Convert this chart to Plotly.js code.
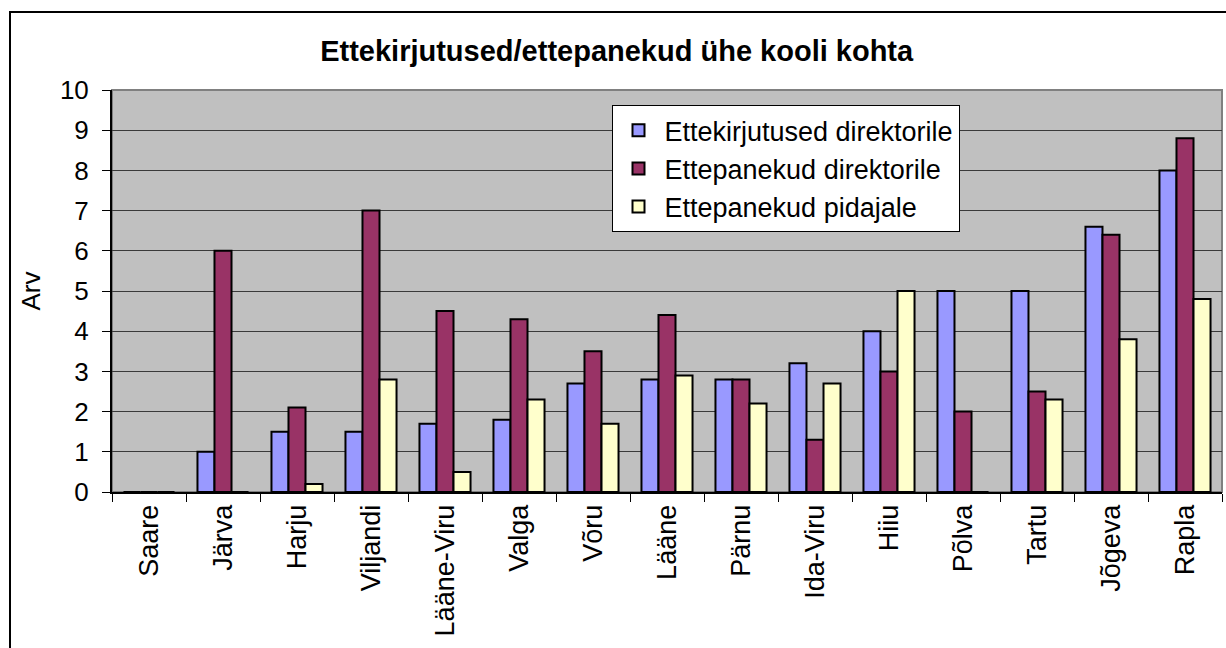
<!DOCTYPE html>
<html>
<head>
<meta charset="utf-8">
<script src="https://cdn.plot.ly/plotly-3.0.1.min.js"></script>
<style>
  html, body { margin: 0; padding: 0; background: #ffffff; }
  #wrap { position: relative; width: 1226px; height: 648px; overflow: hidden; }
  #frame { position: absolute; left: 9px; top: 11px; width: 1230px; height: 660px; border: 2px solid #000; box-sizing: border-box; pointer-events: none; }
  #chart { position: absolute; left: 0; top: 0; width: 1226px; height: 648px; }
</style>
</head>
<body>
<div id="wrap">
  <div id="chart"></div>
  <div id="frame"></div>
</div>
<script>
const categories = ["Saare", "Järva", "Harju", "Viljandi", "Lääne-Viru", "Valga", "Võru", "Lääne", "Pärnu", "Ida-Viru", "Hiiu", "Põlva", "Tartu", "Jõgeva", "Rapla"];
const ettekirjutusedDirektorile = [0, 1, 1.5, 1.5, 1.7, 1.8, 2.7, 2.8, 2.8, 3.2, 4, 5, 5, 6.6, 8];
const ettepanekudDirektorile = [0, 6, 2.1, 7, 4.5, 4.3, 3.5, 4.4, 2.8, 1.3, 3, 2, 2.5, 6.4, 8.8];
const ettepanekudPidajale = [0, 0, 0.2, 2.8, 0.5, 2.3, 1.7, 2.9, 2.2, 2.7, 5, 0, 2.3, 3.8, 4.8];
const seriesNames = ["Ettekirjutused direktorile", "Ettepanekud direktorile", "Ettepanekud pidajale"];
const yTicks = [0, 1, 2, 3, 4, 5, 6, 7, 8, 9, 10];

const colors = ["#9999FF", "#993366", "#FFFFCC"];
const seriesValues = [ettekirjutusedDirektorile, ettepanekudDirektorile, ettepanekudPidajale];

const FONT = "Arial, 'Liberation Sans', sans-serif";

const traces = seriesValues.map((vals, i) => ({
  type: "bar",
  name: seriesNames[i],
  x: categories,
  y: vals,
  legendgroup: "g" + i,
  marker: { color: colors[i], line: { color: "#000000", width: 2 } },
  hoverinfo: "x+y+name"
}));

const layout = {
  width: 1226,
  height: 648,
  paper_bgcolor: "rgba(0,0,0,0)",
  plot_bgcolor: "#C0C0C0",
  margin: { l: 112, r: 4, t: 90, b: 156, pad: 0 },
  barmode: "group",
  bargap: 0.31,
  bargroupgap: 0,
  title: {
    text: "<b>Ettekirjutused/ettepanekud ühe kooli kohta</b>",
    font: { family: FONT, size: 29, color: "#000000" },
    x: 0.503, xanchor: "center",
    y: 0.922, yanchor: "middle"
  },
  xaxis: {
    type: "category",
    categoryorder: "array",
    categoryarray: categories,
    tickson: "boundaries",
    ticks: "outside",
    ticklen: 8,
    tickwidth: 1,
    tickcolor: "#000000",
    tickangle: -90,
    tickfont: { family: FONT, size: 27, color: "#000000" },
    showline: true,
    linecolor: "#000000",
    linewidth: 2,
    showgrid: false,
    zeroline: false,
    fixedrange: true
  },
  yaxis: {
    range: [0, 10],
    tickvals: yTicks,
    ticktext: yTicks.map(String),
    ticks: "outside",
    ticklen: 8,
    tickwidth: 1,
    tickcolor: "#000000",
    ticklabelstandoff: 8,
    tickfont: { family: FONT, size: 26, color: "#000000" },
    showline: true,
    linecolor: "#000000",
    linewidth: 2,
    showgrid: true,
    gridcolor: "#3a3a3a",
    gridwidth: 1,
    zeroline: false,
    title: {
      text: "Arv",
      font: { family: FONT, size: 26, color: "#000000" },
      standoff: 12
    },
    fixedrange: true
  },
  legend: {
    x: 0.450, xanchor: "left",
    y: 0.962, yanchor: "top",
    bgcolor: "#FFFFFF",
    bordercolor: "#000000",
    borderwidth: 1,
    font: { family: FONT, size: 27, color: "#000000" },
    traceorder: "grouped",
    tracegroupgap: 0,
    itemwidth: 42
  },
  shapes: [{
    type: "rect", xref: "paper", yref: "paper",
    x0: 0, x1: 1, y0: 0, y1: 1,
    line: { color: "#808080", width: 2 },
    layer: "below"
  }],
  showlegend: true
};

Plotly.newPlot("chart", traces, layout, { displayModeBar: false, staticPlot: true });
</script>
</body>
</html>
